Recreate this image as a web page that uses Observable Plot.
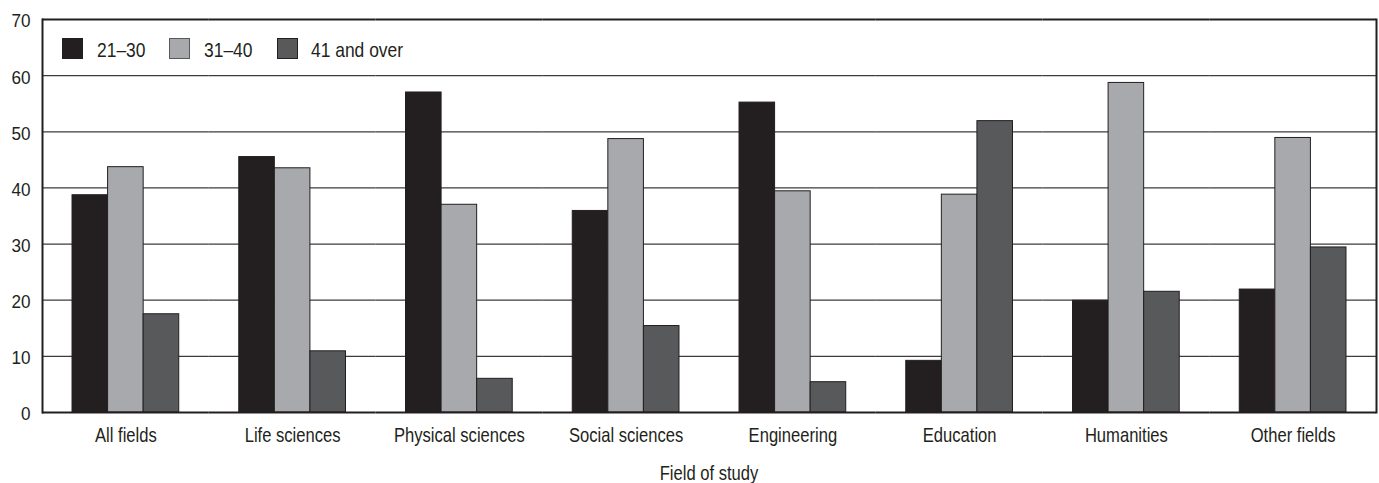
<!DOCTYPE html>
<html>
<head>
<meta charset="utf-8">
<script src="https://cdn.jsdelivr.net/npm/d3@7"></script>
<script src="https://cdn.jsdelivr.net/npm/@observablehq/plot@0.6"></script>
<style>
  html, body { margin: 0; padding: 0; background: #fff; }
  #wrap { position: relative; width: 1379px; height: 483px; font-family: "Liberation Sans", Arial, sans-serif; color: #231f20; }
  .leg { position: absolute; top: 39px; font-size: 21px; line-height: 21px; white-space: nowrap; transform: scaleX(0.83); transform-origin: 0 50%; }
  .sw { position: absolute; top: 38px; width: 21px; height: 21px; box-sizing: border-box; border: 1px solid #231f20; }
  #xlabel { position: absolute; left: 42px; width: 1334px; top: 462px; text-align: center; font-size: 21px; line-height: 21px; transform: scaleX(0.79); transform-origin: 50% 50%; }
</style>
</head>
<body>
<div id="wrap"></div>
<script>
const fields = ["All fields", "Life sciences", "Physical sciences", "Social sciences", "Engineering", "Education", "Humanities", "Other fields"];
const ages = ["21–30", "31–40", "41 and over"];
const v21to30 = [38.7, 45.5, 57.0, 35.9, 55.2, 9.2, 19.9, 21.9];
const v31to40 = [43.7, 43.5, 37.0, 48.7, 39.4, 38.8, 58.7, 48.9];
const v41over = [17.5, 10.9, 6.0, 15.4, 5.4, 51.9, 21.5, 29.4];
const colors = ["#231f20", "#a7a9ac", "#58595b"];
const yTicks = [0, 10, 20, 30, 40, 50, 60, 70];
const xTitle = "Field of study";

const series = [v21to30, v31to40, v41over];
const data = fields.flatMap((f, i) => ages.map((a, j) => ({field: f, age: a, value: series[j][i]})));

const font = '"Liberation Sans", Arial, sans-serif';
const ink = "#231f20";

const chart = Plot.plot({
  width: 1379,
  height: 483,
  marginLeft: 42,
  marginRight: 3,
  marginTop: 19,
  marginBottom: 71,
  style: {fontFamily: font, color: ink, background: "white", overflow: "visible"},
  fx: {domain: fields, paddingInner: 0, paddingOuter: 0, round: false, label: null},
  x: {domain: ages, paddingInner: 0, paddingOuter: 0.84375, round: false, axis: null},
  y: {domain: [0, 70], label: null},
  color: {domain: ages, range: colors},
  marks: [
    Plot.ruleY(yTicks.slice(1, -1), {stroke: "#3c3c3c", strokeWidth: 1.2}),
    Plot.barY(data, {fx: "field", x: "age", y: "value", fill: "age", stroke: ink, strokeWidth: 1}),
    Plot.ruleY([0, 70], {stroke: ink, strokeWidth: 2}),
    Plot.frame({anchor: "left", facetAnchor: "left", stroke: ink, strokeWidth: 2}),
    Plot.frame({anchor: "right", facetAnchor: "right", stroke: ink, strokeWidth: 2}),
    Plot.axisY({ticks: yTicks, tickSize: 0, tickPadding: 12, fontSize: 18.6, dy: 2, label: null}),
    Plot.axisFx({anchor: "bottom", tickSize: 0, tickPadding: 15, fontSize: 21, label: null})
  ]
});

const wrap = document.getElementById("wrap");
wrap.appendChild(chart);

// condensed look: compress glyph widths of the axis labels (digits less than letters)
chart.querySelectorAll("text").forEach(t => {
  const L = t.getComputedTextLength();
  if (L > 0) {
    const k = /^[0-9]+$/.test(t.textContent.trim()) ? 0.92 : 0.79;
    t.setAttribute("textLength", (L * k).toFixed(2));
    t.setAttribute("lengthAdjust", "spacingAndGlyphs");
  }
});

// legend
const legPos = [{sw: 62, tx: 97}, {sw: 169, tx: 204}, {sw: 277, tx: 311}];
ages.forEach((a, i) => {
  const sw = document.createElement("div");
  sw.className = "sw";
  sw.style.left = legPos[i].sw + "px";
  sw.style.background = colors[i];
  if (i === 1) sw.style.borderColor = "#58595b";
  wrap.appendChild(sw);
  const t = document.createElement("div");
  t.className = "leg";
  t.style.left = legPos[i].tx + "px";
  t.textContent = a;
  wrap.appendChild(t);
});

const xl = document.createElement("div");
xl.id = "xlabel";
xl.textContent = xTitle;
wrap.appendChild(xl);
</script>
</body>
</html>
